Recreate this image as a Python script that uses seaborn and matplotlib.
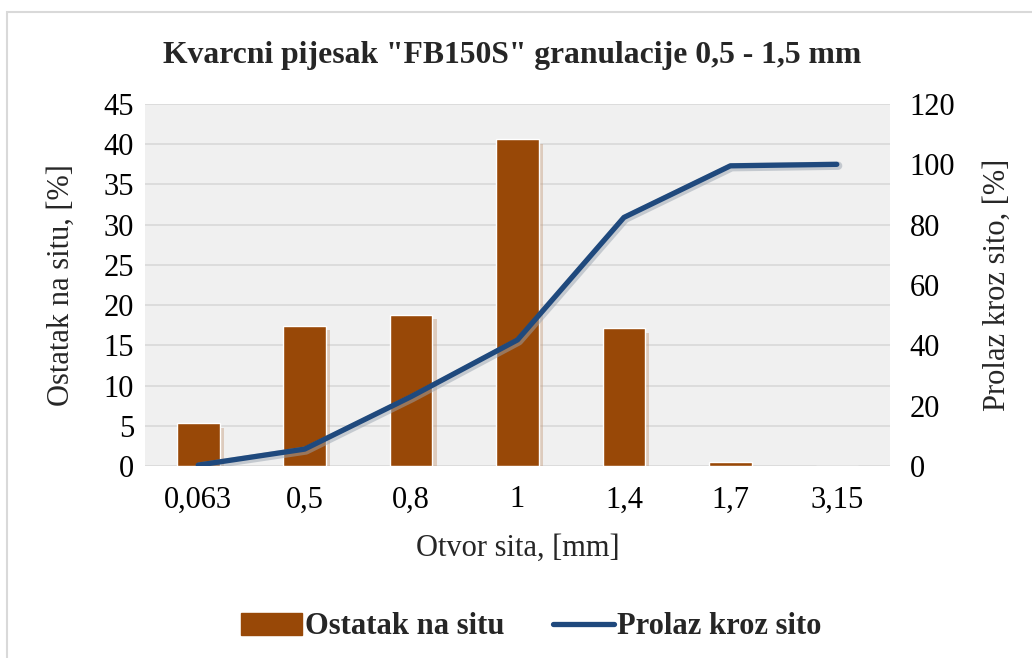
import matplotlib
matplotlib.use("Agg")
import matplotlib.pyplot as plt
import matplotlib.patches as mpatches
import matplotlib.lines as mlines
import matplotlib.patheffects as pe
import seaborn as sns
import pandas as pd

categories = ["0,063", "0,5", "0,8", "1", "1,4", "1,7", "3,15"]
retained = [5.3, 17.4, 18.8, 40.6, 17.1, 0.5, 0.0]
passing = [0.3, 5.6, 23.0, 41.8, 82.4, 99.5, 100.0]

title = 'Kvarcni pijesak "FB150S" granulacije 0,5 - 1,5 mm'
xlabel = "Otvor sita, [mm]"
ylabel_left = "Ostatak na situ, [%]"
ylabel_right = "Prolaz kroz sito, [%]"
legend_bar = "Ostatak na situ"
legend_line = "Prolaz kroz sito"

bar_color = "#984807"
line_color = "#1F497D"

sns.set_theme(style="white")
plt.rcParams["font.family"] = ["Liberation Serif", "DejaVu Serif"]

df = pd.DataFrame({"cat": categories, "ret": retained, "pas": passing})

fig = plt.figure(figsize=(10.32, 6.58), dpi=100)
ax = fig.add_axes([145 / 1032, 1 - 466 / 658, (890 - 145) / 1032, (466 - 104) / 658])
ax.set_facecolor("#F0F0F0")

sns.barplot(data=df, x="cat", y="ret", ax=ax, color=bar_color, width=0.4,
            saturation=1, zorder=3)
for p in ax.patches:
    p.set_path_effects([pe.SimplePatchShadow(offset=(3, -3), shadow_rgbFace="#C8A080",
                                             alpha=0.45), pe.Normal()])
ax.set_ylim(0, 45)
ax.set_yticks(range(0, 46, 5))
ax.grid(axis="y", color="#D9D9D9", linewidth=1.2, zorder=0)
ax.set_axisbelow(True)
for s in ax.spines.values():
    s.set_visible(False)
ax.tick_params(axis="both", length=0, labelsize=22, colors="black")
ax.tick_params(axis="x", pad=14)
ax.tick_params(axis="y", pad=8)
ax.set_xlabel(xlabel, fontsize=22, labelpad=14)
ax.set_ylabel(ylabel_left, fontsize=22, labelpad=20)

ax2 = ax.twinx()
sns.pointplot(data=df, x="cat", y="pas", ax=ax2, color=line_color, markers="",
              linestyles="-", errorbar=None)
for ln in ax2.lines:
    ln.set_linewidth(3.8)
    ln.set_solid_capstyle("round")
    ln.set_zorder(4)
    ln.set_path_effects([pe.SimpleLineShadow(offset=(1, -1), shadow_color="#9AA4B0",
                                             alpha=0.5, linewidth=6), pe.Normal()])
ax2.set_ylim(0, 120)
ax2.set_yticks(range(0, 121, 20))
for s in ax2.spines.values():
    s.set_visible(False)
ax2.tick_params(axis="y", length=0, labelsize=22, colors="black", pad=14)
ax2.set_ylabel(ylabel_right, fontsize=22, labelpad=20)
ax2.set_xlabel("")
ax.set_xlim(-0.5, len(categories) - 0.5)
ax.set_xticks(range(len(categories)))
ax.set_xticklabels(categories)

fig.text(512 / 1032, 1 - 55 / 658, title, ha="center", va="center", fontsize=22.8,
         fontweight="bold")

# chart border
fig.patches.append(mpatches.Rectangle((7 / 1032, -0.01), 1.02, 1 - 12 / 658 + 0.01,
                                      transform=fig.transFigure, fill=False,
                                      edgecolor="#D9D9D9", linewidth=1.5))

h1 = mpatches.Patch(color=bar_color, label=legend_bar)
h2 = mlines.Line2D([], [], color=line_color, linewidth=3.8,
                   solid_capstyle="round", label=legend_line)
fig.legend(handles=[h1, h2], loc="center", bbox_to_anchor=(531 / 1032, 1 - 627 / 658),
           ncol=2, frameon=False, prop={"size": 22, "weight": "bold"},
           handlelength=2.0, handletextpad=0.1, columnspacing=1.6)

fig.savefig("out.png", dpi=100)
